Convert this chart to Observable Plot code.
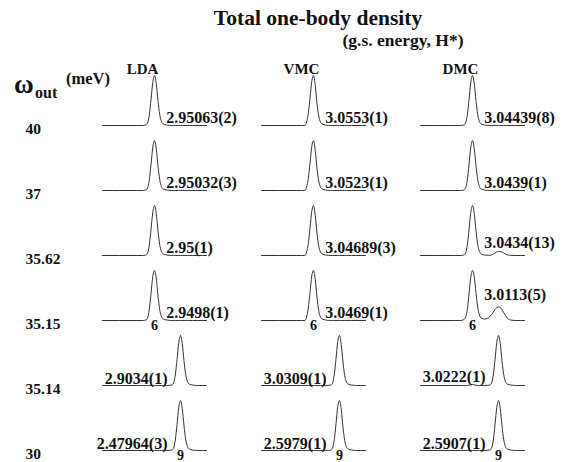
<!DOCTYPE html>
<html><head><meta charset="utf-8">
<script src="https://cdn.jsdelivr.net/npm/d3@7"></script>
<script src="https://cdn.jsdelivr.net/npm/@observablehq/plot@0.6"></script>
<style>
body{margin:0;background:#fff;}
#chart{width:574px;height:462px;}
#chart svg, #chart svg text{font-family:"Liberation Serif","Times New Roman","DejaVu Serif",serif !important;font-weight:bold;}
</style></head><body>
<div id="chart"></div>
<script>
const methods = ["LDA", "VMC", "DMC"];
const omegas = ["40", "37", "35.62", "35.15", "35.14", "30"];
const energyLDA = ["2.95063(2)", "2.95032(3)", "2.95(1)", "2.9498(1)", "2.9034(1)", "2.47964(3)"];
const energyVMC = ["3.0553(1)", "3.0523(1)", "3.04689(3)", "3.0469(1)", "3.0309(1)", "2.5979(1)"];
const energyDMC = ["3.04439(8)", "3.0439(1)", "3.0434(13)", "3.0113(5)", "3.0222(1)", "2.5907(1)"];
const tickRows = ["35.15", "30"];
const tickValues = [6, 9];

// radial grid (shared by all curves)
const r = [0, 4, 4.6, 5, 5.2, 5.4, 5.6, 5.8, 6, 6.2, 6.4, 6.6, 6.8, 7, 7.4, 8, 8.2, 8.4, 8.6, 8.8, 9, 9.2, 9.4, 9.6, 9.8, 10, 10.4, 11, 12];

const densityLDA = [
  [0,0,0,0.01,0.05,0.21,0.52,0.86,1,0.84,0.5,0.22,0.08,0.03,0.01, 0,0,0,0,0,0,0,0,0,0,0,0,0,0],
  [0,0,0,0.01,0.05,0.21,0.52,0.86,1,0.84,0.5,0.22,0.08,0.03,0.01, 0,0,0,0,0,0,0,0,0,0,0,0,0,0],
  [0,0,0,0.01,0.05,0.21,0.52,0.86,1,0.84,0.5,0.22,0.08,0.03,0.01, 0,0,0,0,0,0,0,0,0,0,0,0,0,0],
  [0,0,0,0.01,0.05,0.22,0.54,0.88,1,0.85,0.5,0.22,0.08,0.03,0.01, 0,0,0,0,0,0,0,0,0,0,0,0,0,0],
  [0,0,0,0,0,0,0,0,0,0,0,0,0,0,0, 0.01,0.05,0.21,0.52,0.86,1,0.84,0.5,0.22,0.08,0.03,0.01,0,0],
  [0,0,0,0,0,0,0,0,0,0,0,0,0,0,0, 0.01,0.05,0.21,0.52,0.86,1,0.84,0.5,0.22,0.08,0.03,0.01,0,0]
];
const densityVMC = [
  [0,0,0,0,0.07,0.24,0.55,0.88,1,0.8,0.45,0.19,0.07,0.03,0.01, 0,0,0,0,0,0,0,0,0,0,0,0,0,0],
  [0,0,0,0,0.07,0.24,0.55,0.88,1,0.8,0.45,0.19,0.07,0.03,0.01, 0,0,0,0,0,0,0,0,0,0,0,0,0,0],
  [0,0,0,0,0.07,0.24,0.55,0.88,1,0.8,0.45,0.19,0.07,0.03,0.01, 0,0,0,0,0,0,0,0,0,0,0,0,0,0],
  [0,0,0,0,0.07,0.25,0.56,0.89,1,0.82,0.47,0.2,0.07,0.03,0.01, 0,0,0,0,0,0,0,0,0,0,0,0,0,0],
  [0,0,0,0,0,0,0,0,0,0,0,0,0,0,0, 0.01,0.05,0.22,0.54,0.88,1,0.82,0.47,0.2,0.07,0.03,0.01,0,0],
  [0,0,0,0,0,0,0,0,0,0,0,0,0,0,0, 0.01,0.05,0.22,0.54,0.88,1,0.82,0.47,0.2,0.07,0.03,0.01,0,0]
];
const densityDMC = [
  [0,0,0,0.01,0.05,0.21,0.52,0.86,1,0.84,0.5,0.22,0.08,0.03,0.01, 0,0,0,0,0,0,0,0,0,0,0,0,0,0],
  [0,0,0,0.01,0.05,0.21,0.52,0.86,1,0.84,0.5,0.22,0.08,0.03,0.01, 0,0,0,0,0,0,0,0,0,0,0,0,0,0],
  [0,0,0,0.01,0.05,0.21,0.52,0.86,1,0.84,0.5,0.22,0.08,0.03,0.01, 0.005,0.01,0.03,0.05,0.07,0.08,0.08,0.07,0.05,0.03,0.015,0.003,0,0],
  [0,0,0,0.02,0.06,0.22,0.53,0.86,1,0.88,0.56,0.27,0.11,0.05,0.03, 0.08,0.12,0.17,0.22,0.26,0.27,0.26,0.22,0.16,0.1,0.05,0.01,0,0],
  [0,0,0,0,0,0,0.005,0.015,0.02,0.015,0.005,0,0,0,0, 0.01,0.05,0.21,0.52,0.86,1,0.84,0.5,0.22,0.08,0.03,0.01,0,0],
  [0,0,0,0,0,0,0,0,0,0,0,0,0,0,0, 0.01,0.05,0.21,0.52,0.86,1,0.84,0.5,0.22,0.08,0.03,0.01,0,0]
];

const dens = {LDA: densityLDA, VMC: densityVMC, DMC: densityDMC};
const energies = {LDA: energyLDA, VMC: energyVMC, DMC: energyDMC};

const curve = [];
const labels = [];
methods.forEach(m => omegas.forEach((w, i) => {
  const ys = dens[m][i];
  ys.forEach((y, j) => curve.push({method: m, omega: w, x: r[j], y}));
  const peak = r[d3.maxIndex(ys)];
  const right = peak <= 6;
  const side = ys.filter((y, k) => right ? r[k] >= peak + 1.4 : r[k] <= peak - 1.4);
  const h = d3.max(side) || 0;
  labels.push({method: m, omega: w, text: energies[m][i], x: right ? peak + 1.35 : peak - 1.5, y: 1.4 * h, right});
}));
const ticks = [];
methods.forEach(m => tickRows.forEach((w, i) => ticks.push({method: m, omega: w, x: tickValues[i]})));

const FF = "Liberation Serif, Times New Roman, DejaVu Serif, serif";

const plot = Plot.plot({
  width: 574, height: 462,
  marginTop: 74, marginBottom: 11, marginLeft: 102, marginRight: 50,
  style: {background: "#fff", color: "#111", fontFamily: FF, fontWeight: "bold", fontSize: "16px"},
  x: {domain: [0, 12], axis: null},
  y: {domain: [0, 1], axis: null},
  fx: {domain: methods, paddingInner: 0.346, paddingOuter: 0, axis: null},
  fy: {domain: omegas, paddingInner: 0.235, paddingOuter: 0, axis: null},
  marks: [
    Plot.line(curve, {x: "x", y: "y", fx: "method", fy: "omega", curve: "monotone-x", stroke: "#333", strokeWidth: 1}),
    Plot.text(labels.filter(d => d.right), {x: "x", y: "y", fx: "method", fy: "omega", text: "text", textAnchor: "start", lineAnchor: "bottom", dy: -2, fontSize: 16, fill: "#111"}),
    Plot.text(labels.filter(d => !d.right), {x: "x", y: "y", fx: "method", fy: "omega", text: "text", textAnchor: "end", lineAnchor: "bottom", dy: -2, fontSize: 16, fill: "#111"}),
    Plot.text(ticks, {x: "x", y: 0, fx: "method", fy: "omega", text: d => String(d.x), lineAnchor: "top", dy: 0, fontSize: 14, fill: "#111"}),
    Plot.text(omegas, {fx: () => "LDA", fy: d => d, text: d => d, frameAnchor: "bottom-left", textAnchor: "start", lineAnchor: "middle", dx: -77, dy: 4, fontSize: 15.5, fill: "#111"}),
    Plot.text(methods, {fx: d => d, fy: () => omegas[0], text: d => d, frameAnchor: "top", lineAnchor: "bottom", dx: -12, dy: -2, fontSize: 15, fill: "#111"})
  ]
});
document.getElementById("chart").appendChild(plot);

const svg = d3.select(plot);
const g = svg.append("g").attr("font-weight", "bold").attr("fill", "#111").attr("text-anchor", "start");
g.append("text").attr("x", 318).attr("y", 25).attr("text-anchor", "middle").attr("font-size", 21.5).text("Total one-body density");
g.append("text").attr("x", 403).attr("y", 46).attr("text-anchor", "middle").attr("font-size", 17.5).text("(g.s. energy, H*)");
g.append("text").attr("x", 14).attr("y", 93).attr("font-size", 27).text("ω");
g.append("text").attr("x", 35).attr("y", 98).attr("font-size", 16).text("out");
g.append("text").attr("x", 66).attr("y", 84).attr("font-size", 16.5).text("(meV)");
</script>
</body></html>
